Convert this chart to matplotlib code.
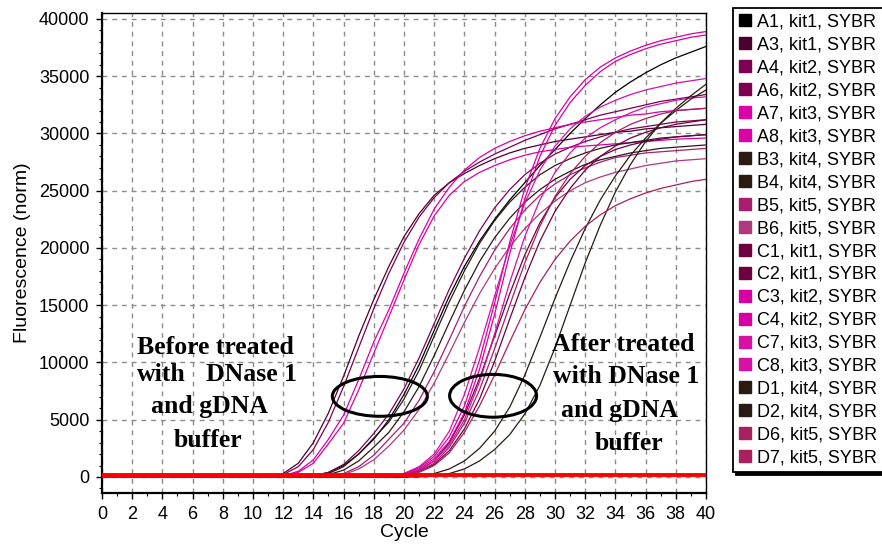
import numpy as np
import matplotlib
matplotlib.use('Agg')
import matplotlib.pyplot as plt
from matplotlib.patches import Ellipse
from matplotlib.lines import Line2D

# amplification curves, fluorescence (norm) read per cycle 0..40
cycles = np.arange(41)

A1 = [0, 0, 0, 0, 0, 0, 0, 0, 0, 0, 0, 0, 0, 0,
      100, 400, 1000, 2000, 3300, 5000, 7200, 9800, 12800, 15800, 18400, 20600, 22500,
      24200, 25700, 27200, 28600, 30000, 31300, 32500, 33600, 34500, 35300, 36000, 36600, 37100, 37600]
A3 = [0, 0, 0, 0, 0, 0, 0, 0, 0, 0, 0, 0,
      300, 1200, 3000, 5600, 8800, 12300, 15500, 18400, 21000, 23000, 24600, 25700, 26500,
      27200, 27800, 28300, 28700, 29000, 29300, 29500, 29700, 29900, 30100, 30200, 30400, 30500, 30600, 30700, 30800]
A4 = [0, 0, 0, 0, 0, 0, 0, 0, 0, 0, 0, 0,
      200, 900, 2400, 4800, 7900, 11300, 14700, 17800, 20500, 22700, 24400, 25700, 26700,
      27500, 28200, 28800, 29400, 29900, 30400, 30800, 31200, 31600, 31900, 32200, 32500, 32800, 33000, 33200, 33400]
A6 = [0, 0, 0, 0, 0, 0, 0, 0, 0, 0, 0, 0, 0, 0,
      100, 400, 1100, 2300, 3800, 5500, 7700, 10400, 13400, 16400, 19100, 21500, 23500,
      25100, 26400, 27400, 28200, 28800, 29300, 29700, 30100, 30400, 30600, 30800, 31000, 31100, 31200]
A7 = [0, 0, 0, 0, 0, 0, 0, 0, 0, 0, 0, 0,
      100, 500, 1500, 3300, 5400, 8500, 11800, 14600, 17800, 20800, 23400, 25300, 26800,
      27900, 28700, 29300, 29800, 30200, 30500, 30800, 31000, 31200, 31400, 31600, 31700, 31900, 32000, 32100, 32200]
A8 = [0, 0, 0, 0, 0, 0, 0, 0, 0, 0, 0, 0,
      100, 400, 1200, 2900, 4700, 7600, 10800, 14000, 17200, 20300, 22800, 24600, 25800,
      26600, 27200, 27700, 28100, 28400, 28600, 28800, 28900, 29000, 29100, 29200, 29300, 29400, 29500, 29550, 29600]
B3 = [0, 0, 0, 0, 0, 0, 0, 0, 0, 0, 0, 0, 0, 0, 0,
      300, 900, 2000, 3400, 4800, 6800, 9300, 12300, 15300, 18000, 20400, 22400,
      24000, 25300, 26400, 27200, 27800, 28300, 28700, 29000, 29200, 29400, 29600, 29700, 29800, 29900]
B4 = [0, 0, 0, 0, 0, 0, 0, 0, 0, 0, 0, 0, 0, 0, 0,
      200, 600, 1400, 2600, 3900, 5700, 7900, 10600, 13500, 16300, 18800, 20900,
      22600, 24000, 25100, 26000, 26700, 27300, 27700, 28000, 28300, 28500, 28700, 28800, 28900, 29000]
B5 = [0, 0, 0, 0, 0, 0, 0, 0, 0, 0, 0, 0, 0, 0, 0, 0,
      300, 900, 1900, 3300, 4700, 6700, 9200, 12000, 14900, 17500, 19800,
      21700, 23300, 24600, 25600, 26400, 27000, 27500, 27900, 28100, 28300, 28400, 28500, 28600, 28700]
B6 = [0, 0, 0, 0, 0, 0, 0, 0, 0, 0, 0, 0, 0, 0, 0, 0,
      200, 700, 1500, 2700, 4100, 5900, 8200, 10800, 13500, 16000, 18200,
      20100, 21700, 23000, 24100, 25000, 25700, 26200, 26600, 26900, 27200, 27400, 27600, 27700, 27800]
C1 = [0, 0, 0, 0, 0, 0, 0, 0, 0, 0, 0, 0, 0, 0, 0, 0, 0, 0, 0, 0,
      200, 500, 1100, 2300, 4200, 6800, 10100, 13800, 17400, 20600, 23200,
      25200, 26800, 28000, 28900, 29600, 30100, 30500, 30800, 31000, 31200]
C2 = [0, 0, 0, 0, 0, 0, 0, 0, 0, 0, 0, 0, 0, 0, 0, 0, 0, 0, 0, 0,
      200, 600, 1400, 3000, 5400, 8600, 12300, 16000, 19400, 22200, 24400,
      26000, 27200, 28000, 28600, 29000, 29300, 29500, 29700, 29800, 29900]
C3 = [0, 0, 0, 0, 0, 0, 0, 0, 0, 0, 0, 0, 0, 0, 0, 0, 0, 0, 0,
      100, 300, 800, 1800, 3500, 6200, 10200, 15200, 20500, 25200, 28700,
      31300, 33200, 34700, 35800, 36600, 37200, 37700, 38100, 38400, 38700, 38900]
C4 = [0, 0, 0, 0, 0, 0, 0, 0, 0, 0, 0, 0, 0, 0, 0, 0, 0, 0, 0,
      100, 250, 700, 1600, 3100, 5600, 9400, 14200, 19500, 24300, 28000,
      30700, 32700, 34200, 35400, 36300, 36900, 37400, 37800, 38100, 38400, 38600]
C7 = [0, 0, 0, 0, 0, 0, 0, 0, 0, 0, 0, 0, 0, 0, 0, 0, 0, 0, 0,
      100, 300, 900, 2000, 4000, 7200, 11300, 15800, 20200, 23900, 26800,
      28900, 30400, 31500, 32300, 32900, 33400, 33800, 34100, 34400, 34600, 34800]
C8 = [0, 0, 0, 0, 0, 0, 0, 0, 0, 0, 0, 0, 0, 0, 0, 0, 0, 0, 0, 0,
      200, 600, 1400, 2800, 5000, 8300, 12500, 17000, 21000, 24200, 26600,
      28300, 29600, 30500, 31200, 31800, 32300, 32600, 32900, 33100, 33200]
D1 = [0, 0, 0, 0, 0, 0, 0, 0, 0, 0, 0, 0, 0, 0, 0, 0, 0, 0, 0, 0, 0,
      100, 300, 700, 1400, 2500, 4000, 6100, 8900, 12200, 15600,
      18800, 21700, 24200, 26300, 28100, 29600, 30900, 32000, 33000, 33800]
D2 = [0, 0, 0, 0, 0, 0, 0, 0, 0, 0, 0, 0, 0, 0, 0, 0, 0, 0, 0, 0, 0, 0,
      100, 300, 700, 1400, 2400, 3700, 5500, 8000, 11300,
      15000, 18700, 22000, 24900, 27300, 29300, 30900, 32200, 33300, 34300]
D6 = [0, 0, 0, 0, 0, 0, 0, 0, 0, 0, 0, 0, 0, 0, 0, 0, 0, 0, 0, 0,
      100, 400, 1000, 2100, 3900, 6200, 8900, 11800, 14600, 17000, 19000,
      20600, 21900, 22900, 23700, 24300, 24800, 25200, 25500, 25800, 26000]
D7 = [0, 0, 0, 0, 0, 0, 0, 0, 0, 0, 0, 0, 0, 0, 0, 0, 0, 0, 0, 0,
      200, 500, 1200, 2600, 4700, 7600, 11200, 15000, 18700, 21900, 24500,
      26500, 28000, 29200, 30100, 30800, 31300, 31700, 32000, 32100, 32200]

labels = ['A1, kit1, SYBR', 'A3, kit1, SYBR', 'A4, kit2, SYBR', 'A6, kit2, SYBR',
          'A7, kit3, SYBR', 'A8, kit3, SYBR', 'B3, kit4, SYBR', 'B4, kit4, SYBR',
          'B5, kit5, SYBR', 'B6, kit5, SYBR', 'C1, kit1, SYBR', 'C2, kit1, SYBR',
          'C3, kit2, SYBR', 'C4, kit2, SYBR', 'C7, kit3, SYBR', 'C8, kit3, SYBR',
          'D1, kit4, SYBR', 'D2, kit4, SYBR', 'D6, kit5, SYBR', 'D7, kit5, SYBR']
curves = [A1, A3, A4, A6, A7, A8, B3, B4, B5, B6, C1, C2, C3, C4, C7, C8, D1, D2, D6, D7]
colors = ['#000000', '#4d0030', '#7d0052', '#7d0052', '#dc00a6', '#dc00a6', '#2b1a12', '#2b1a12',
          '#a81e6e', '#b0387e', '#6e0040', '#6e0040', '#d800a2', '#d800a2', '#d810a4', '#d810a4',
          '#2b1a12', '#2b1a12', '#a8205e', '#a8205e']
threshold = 150

plt.rcParams['font.family'] = 'Liberation Sans'

fig = plt.figure(figsize=(8.82, 5.49), dpi=100)
ax = fig.add_axes([0.1156, 0.102, 0.6849, 0.8743])

for c, y, lab in zip(colors, curves, labels):
    assert len(y) == len(cycles), lab
    ax.plot(cycles, y, color=c, lw=0.9, zorder=3)

ax.axhline(threshold, color='#ff0000', lw=2.8, zorder=4)

ax.set_xlim(0, 40)
ax.set_ylim(-1400, 40520)
ax.set_xticks(np.arange(0, 41, 2))
ax.set_xticks(np.arange(0, 41, 1), minor=True)
ax.set_yticks(np.arange(0, 40001, 5000))
ax.set_yticks(np.arange(-1000, 40001, 1000), minor=True)
ax.tick_params(which='major', direction='out', length=4, width=1, labelsize=13, pad=5)
ax.tick_params(which='minor', direction='out', length=2, width=0.8)
ax.grid(True, which='major', color='#8c8c8c', linestyle=(0, (3.5, 3.5)), lw=1)
ax.set_axisbelow(True)

for s in ['left', 'bottom']:
    ax.spines[s].set_linewidth(1.6)
for s in ['top', 'right']:
    ax.spines[s].set_linewidth(1.0)

ax.set_xlabel('Cycle', fontsize=14, labelpad=1)
ax.set_ylabel('Fluorescence (norm)', fontsize=14, labelpad=6)

# annotations
serif = dict(family='Liberation Serif', weight='bold', fontsize=18.5, color='black', zorder=5)
ax.text(2.3, 11300, 'Before treated', ha='left', va='center', **serif)
ax.text(2.3, 8960, 'with', ha='left', va='center', **serif)
ax.text(12.9, 8960, 'DNase 1', ha='right', va='center', **serif)
ax.text(7.1, 6170, 'and gDNA', ha='center', va='center', **serif)
ax.text(7.0, 3220, 'buffer', ha='center', va='center', **serif)

ax.text(34.5, 11570, 'After treated', ha='center', va='center', **serif)
ax.text(34.7, 8780, 'with DNase 1', ha='center', va='center', **serif)
ax.text(34.3, 5830, 'and gDNA', ha='center', va='center', **serif)
ax.text(34.9, 2960, 'buffer', ha='center', va='center', **serif)

ax.add_patch(Ellipse((18.4, 7040), 6.29, 3480, fill=False, ec='black', lw=2.2, zorder=6))
ax.add_patch(Ellipse((25.9, 7090), 5.76, 3740, fill=False, ec='black', lw=2.2, zorder=6))

handles = [Line2D([], [], marker='s', ls='none', markersize=8, markerfacecolor=c,
                  markeredgecolor=c) for c in colors]
leg = ax.legend(handles, labels, loc='upper left', bbox_to_anchor=(733 / 882, 1 - 8 / 549),
                bbox_transform=fig.transFigure, fontsize=13, frameon=True, fancybox=False,
                edgecolor='black', borderpad=0.3, handlelength=0.75, handletextpad=0.3,
                labelspacing=0.33, borderaxespad=0,
                shadow={'color': 'black', 'alpha': 1})
leg.get_frame().set_linewidth(1.3)

plt.savefig('out.png', dpi=100)
